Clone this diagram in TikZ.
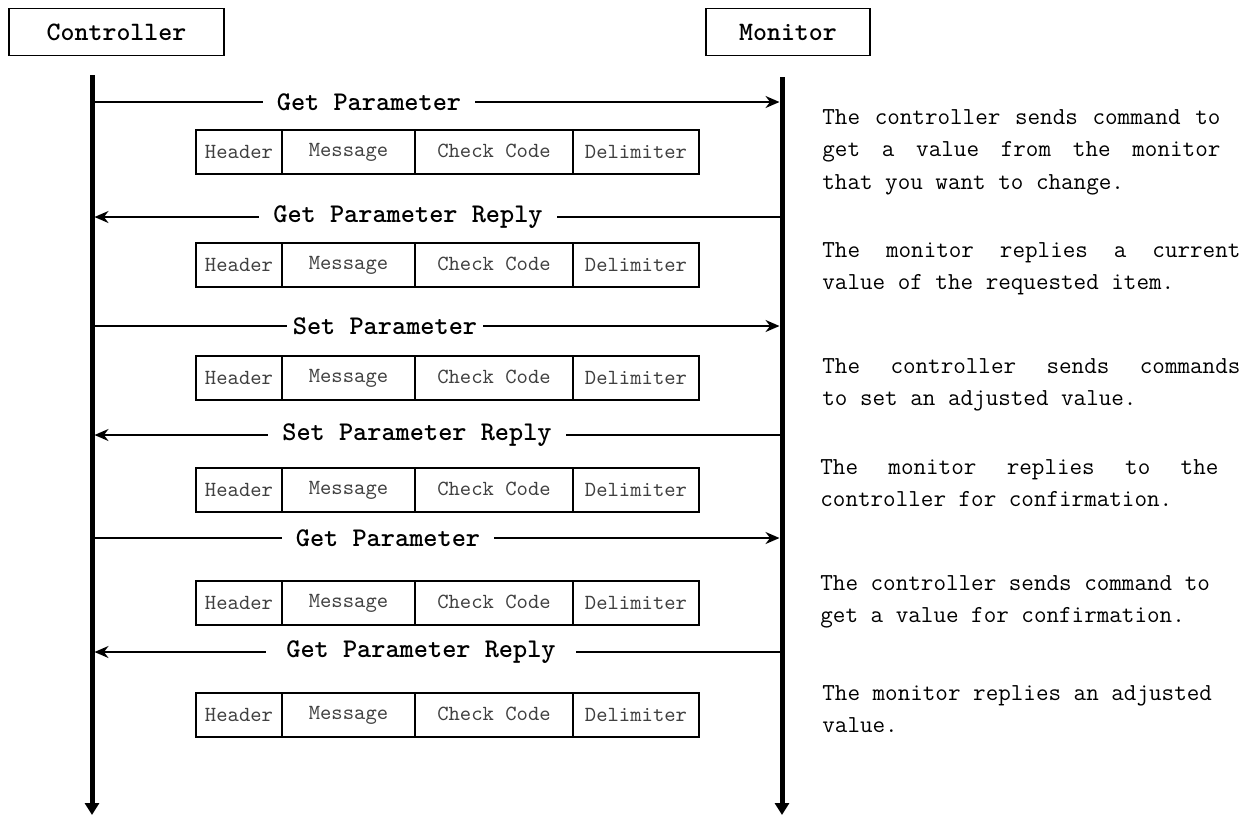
\documentclass[tikz,border=0pt]{standalone}
\usepackage{fontspec}
\usetikzlibrary{arrows.meta}
\newcommand\notefont{\ttfamily\fontsize{12.2}{16.25}\selectfont\fontdimen3\font=5pt\fontdimen4\font=0pt}
\hbadness=10000

\begin{document}
\begin{tikzpicture}[x=0.5pt, y=-0.5pt,
  party/.style={draw, line width=0.9pt, inner sep=0pt, minimum height=23.5pt, font=\ttfamily\bfseries\fontsize{13.3}{15}\selectfont},
  life/.style={line width=2.5pt, -{Triangle[length=6pt, width=7pt]}},
  msg/.style={line width=1pt, -{Stealth[length=7pt, width=6pt]}},
  msglabel/.style={fill=white, inner xsep=7pt, inner ysep=0.5pt, font=\ttfamily\bfseries\fontsize{13.5}{15}\selectfont},
  field/.style={draw, line width=0.8pt, outer sep=0pt, inner sep=0pt, minimum height=22pt, anchor=west, text=black!75, font=\ttfamily\fontsize{10.8}{12}\selectfont},
  note/.style={anchor=north west, inner sep=0pt, align=justify, font=\notefont}]

  \useasboundingbox (0,0) rectangle (1249,816);

  % Parties
  \node[party, minimum width=107.5pt] (ctrl) at (116.5,32) {Controller};
  \node[party, minimum width=82pt] (mon) at (788,32) {Monitor};

  % Lifelines
  \coordinate (ctop) at (92,75);
  \coordinate (cbot) at (92,815);
  \coordinate (mtop) at (782,77);
  \coordinate (mbot) at (782,815);
  \draw[life] (ctop) -- (cbot);
  \draw[life] (mtop) -- (mbot);

  % Messages
  \coordinate (c1) at (94.5,102);  \coordinate (m1) at (779.5,102);
  \coordinate (c2) at (94.5,217);  \coordinate (m2) at (779.5,217);
  \coordinate (c3) at (94.5,326);  \coordinate (m3) at (779.5,326);
  \coordinate (c4) at (94.5,435);  \coordinate (m4) at (779.5,435);
  \coordinate (c5) at (94.5,538);  \coordinate (m5) at (779.5,538);
  \coordinate (c6) at (94.5,652);  \coordinate (m6) at (779.5,652);

  \draw[msg] (c1) -- (m1);
  \node[msglabel] (get1) at (369,102) {Get Parameter};
  \draw[msg] (m2) -- (c2);
  \node[msglabel] (getrep1) at (408,217) {Get Parameter Reply};
  \draw[msg] (c3) -- (m3);
  \node[msglabel, inner xsep=3pt] (set) at (385,326) {Set Parameter};
  \draw[msg] (m4) -- (c4);
  \node[msglabel] (setrep) at (417,435) {Set Parameter Reply};
  \draw[msg] (c5) -- (m5);
  \node[msglabel] (get2) at (388,538) {Get Parameter};
  \draw[msg] (m6) -- (c6);
  \node[msglabel, inner xsep=10pt] (getrep2) at (421,652) {Get Parameter Reply};

  % Frame layout under each message
  \foreach \i/\y in {1/152, 2/265, 3/378, 4/490, 5/603, 6/715} {
    \node[field, minimum width=43pt] (hdr\i) at (196,\y) {Header};
    \node[field, minimum width=66.5pt] (body\i) at (hdr\i.east) {Message};
    \node[field, minimum width=79pt] (chk\i) at (body\i.east) {\raisebox{1.5pt}{Check Code}};
    \node[field, minimum width=63pt] (dlm\i) at (chk\i.east) {Delimiter};
  }

  % Notes
  \node[note, text width=199pt] (note1) at (822,109)
    {The controller sends command to\linebreak get a value from the monitor\linebreak that you want to change.};
  \node[note, text width=209pt] (note2) at (822,242)
    {The monitor replies a current\linebreak value of the requested item.};
  \node[note, text width=209pt] (note3) at (822,358)
    {The controller sends commands\linebreak to set an adjusted value.};
  \node[note, text width=199pt] (note4) at (820,459)
    {The monitor replies to the\linebreak controller for confirmation.};
  \node[note, text width=210pt] (note5) at (820,575)
    {The controller sends command to\\get a value for confirmation.};
  \node[note, text width=210pt] (note6) at (822,685)
    {The monitor replies an adjusted\\value.};

\end{tikzpicture}
\end{document}
